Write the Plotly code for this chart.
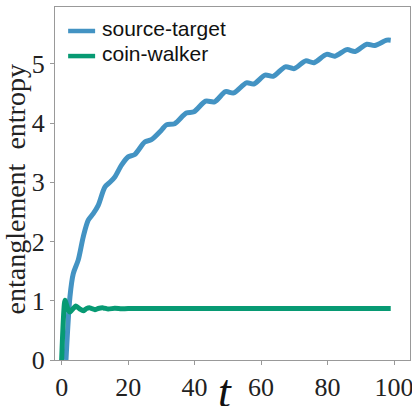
import plotly.graph_objects as go

# Source-target entanglement entropy vs time step
t_st = [1.3, 2.5, 3.5, 5, 6.5, 8, 9.5, 11, 13, 14.5, 16, 18, 20, 22, 25, 27, 30,
        31.5, 34, 37.5, 39.8, 43.3, 46, 49.3, 51.8, 55.6, 57.8, 61.2, 63.6,
        67.3, 70, 73.4, 75.9, 79.7, 82.2, 85.8, 88.3, 91.8, 94.2, 97.8, 99]
s_st = [0.0, 1.07, 1.46, 1.69, 2.08, 2.36, 2.47, 2.61, 2.92, 3.0, 3.09, 3.29, 3.43, 3.47, 3.68, 3.72, 3.88,
        3.97, 3.99, 4.17, 4.19, 4.37, 4.36, 4.53, 4.51, 4.68, 4.66, 4.81, 4.79,
        4.95, 4.92, 5.05, 5.02, 5.16, 5.13, 5.24, 5.21, 5.33, 5.31, 5.40, 5.40]

# Coin-walker entanglement entropy vs time step
t_cw = [0, 1, 2, 2.5, 3, 4.3, 5.5, 6.5, 7.5, 8.5, 10, 11, 12.5, 14, 16, 18, 20, 99]
s_cw = [0.0, 1.01, 0.84, 0.81, 0.84, 0.91, 0.86, 0.83, 0.87, 0.88, 0.85, 0.87, 0.88, 0.86, 0.875, 0.865, 0.87, 0.87]

series_names = ["source-target", "coin-walker"]
x_ticks = [0, 20, 40, 60, 80, 100]
y_ticks = [0, 1, 2, 3, 4, 5]

BLUE = "#4393c3"
GREEN = "#079a73"
SERIF = "Liberation Serif"
colors = [BLUE, GREEN]

fig = go.Figure()
fig.add_trace(go.Scatter(x=t_st, y=s_st, mode="lines", name=series_names[0],
                         line=dict(color=BLUE, width=5, shape="spline", smoothing=0.8)))
fig.add_trace(go.Scatter(x=t_cw, y=s_cw, mode="lines", name=series_names[1],
                         line=dict(color=GREEN, width=5, shape="spline", smoothing=0.5)))

axis_common = dict(showline=True, linecolor="#999999", linewidth=1, mirror=True,
                   ticks="outside", ticklen=4, tickcolor="#999999", showgrid=False,
                   zeroline=False, automargin=False, ticklabeloverflow="allow",
                   tickfont=dict(family=SERIF, size=26, color="#222222"))

fig.update_layout(
    width=412, height=406,
    margin=dict(l=55, r=2, t=7, b=46),
    paper_bgcolor="white", plot_bgcolor="white",
    showlegend=False,
    xaxis=dict(range=[-2, 104.8], tickvals=x_ticks, **axis_common),
    yaxis=dict(range=[0, 5.96], tickvals=y_ticks, **axis_common),
)

# Legend drawn inside the top-left corner of the axes
for i, (name, col) in enumerate(zip(series_names, colors)):
    yc = 0.932 - i * 0.071
    fig.add_shape(type="line", xref="paper", yref="paper",
                  x0=0.037, x1=0.113, y0=yc, y1=yc,
                  line=dict(color=col, width=4.5))
    fig.add_annotation(xref="paper", yref="paper", x=0.127, y=yc + 0.006,
                       xanchor="left", yanchor="middle", showarrow=False,
                       text=name, font=dict(family="Liberation Sans", size=21, color="#111111"))

# Axis titles
fig.add_annotation(xref="paper", yref="paper", x=0.478, y=-0.011,
                   xanchor="center", yanchor="top", showarrow=False,
                   text="<i>t</i>", font=dict(family=SERIF, size=46, color="#111111"))
fig.add_annotation(xref="paper", yref="paper", x=-0.111, y=0.482,
                   xanchor="center", yanchor="middle", showarrow=False, textangle=-90,
                   text="entanglement  entropy",
                   font=dict(family=SERIF, size=28, color="#222222"))

fig.write_html("out.html")
